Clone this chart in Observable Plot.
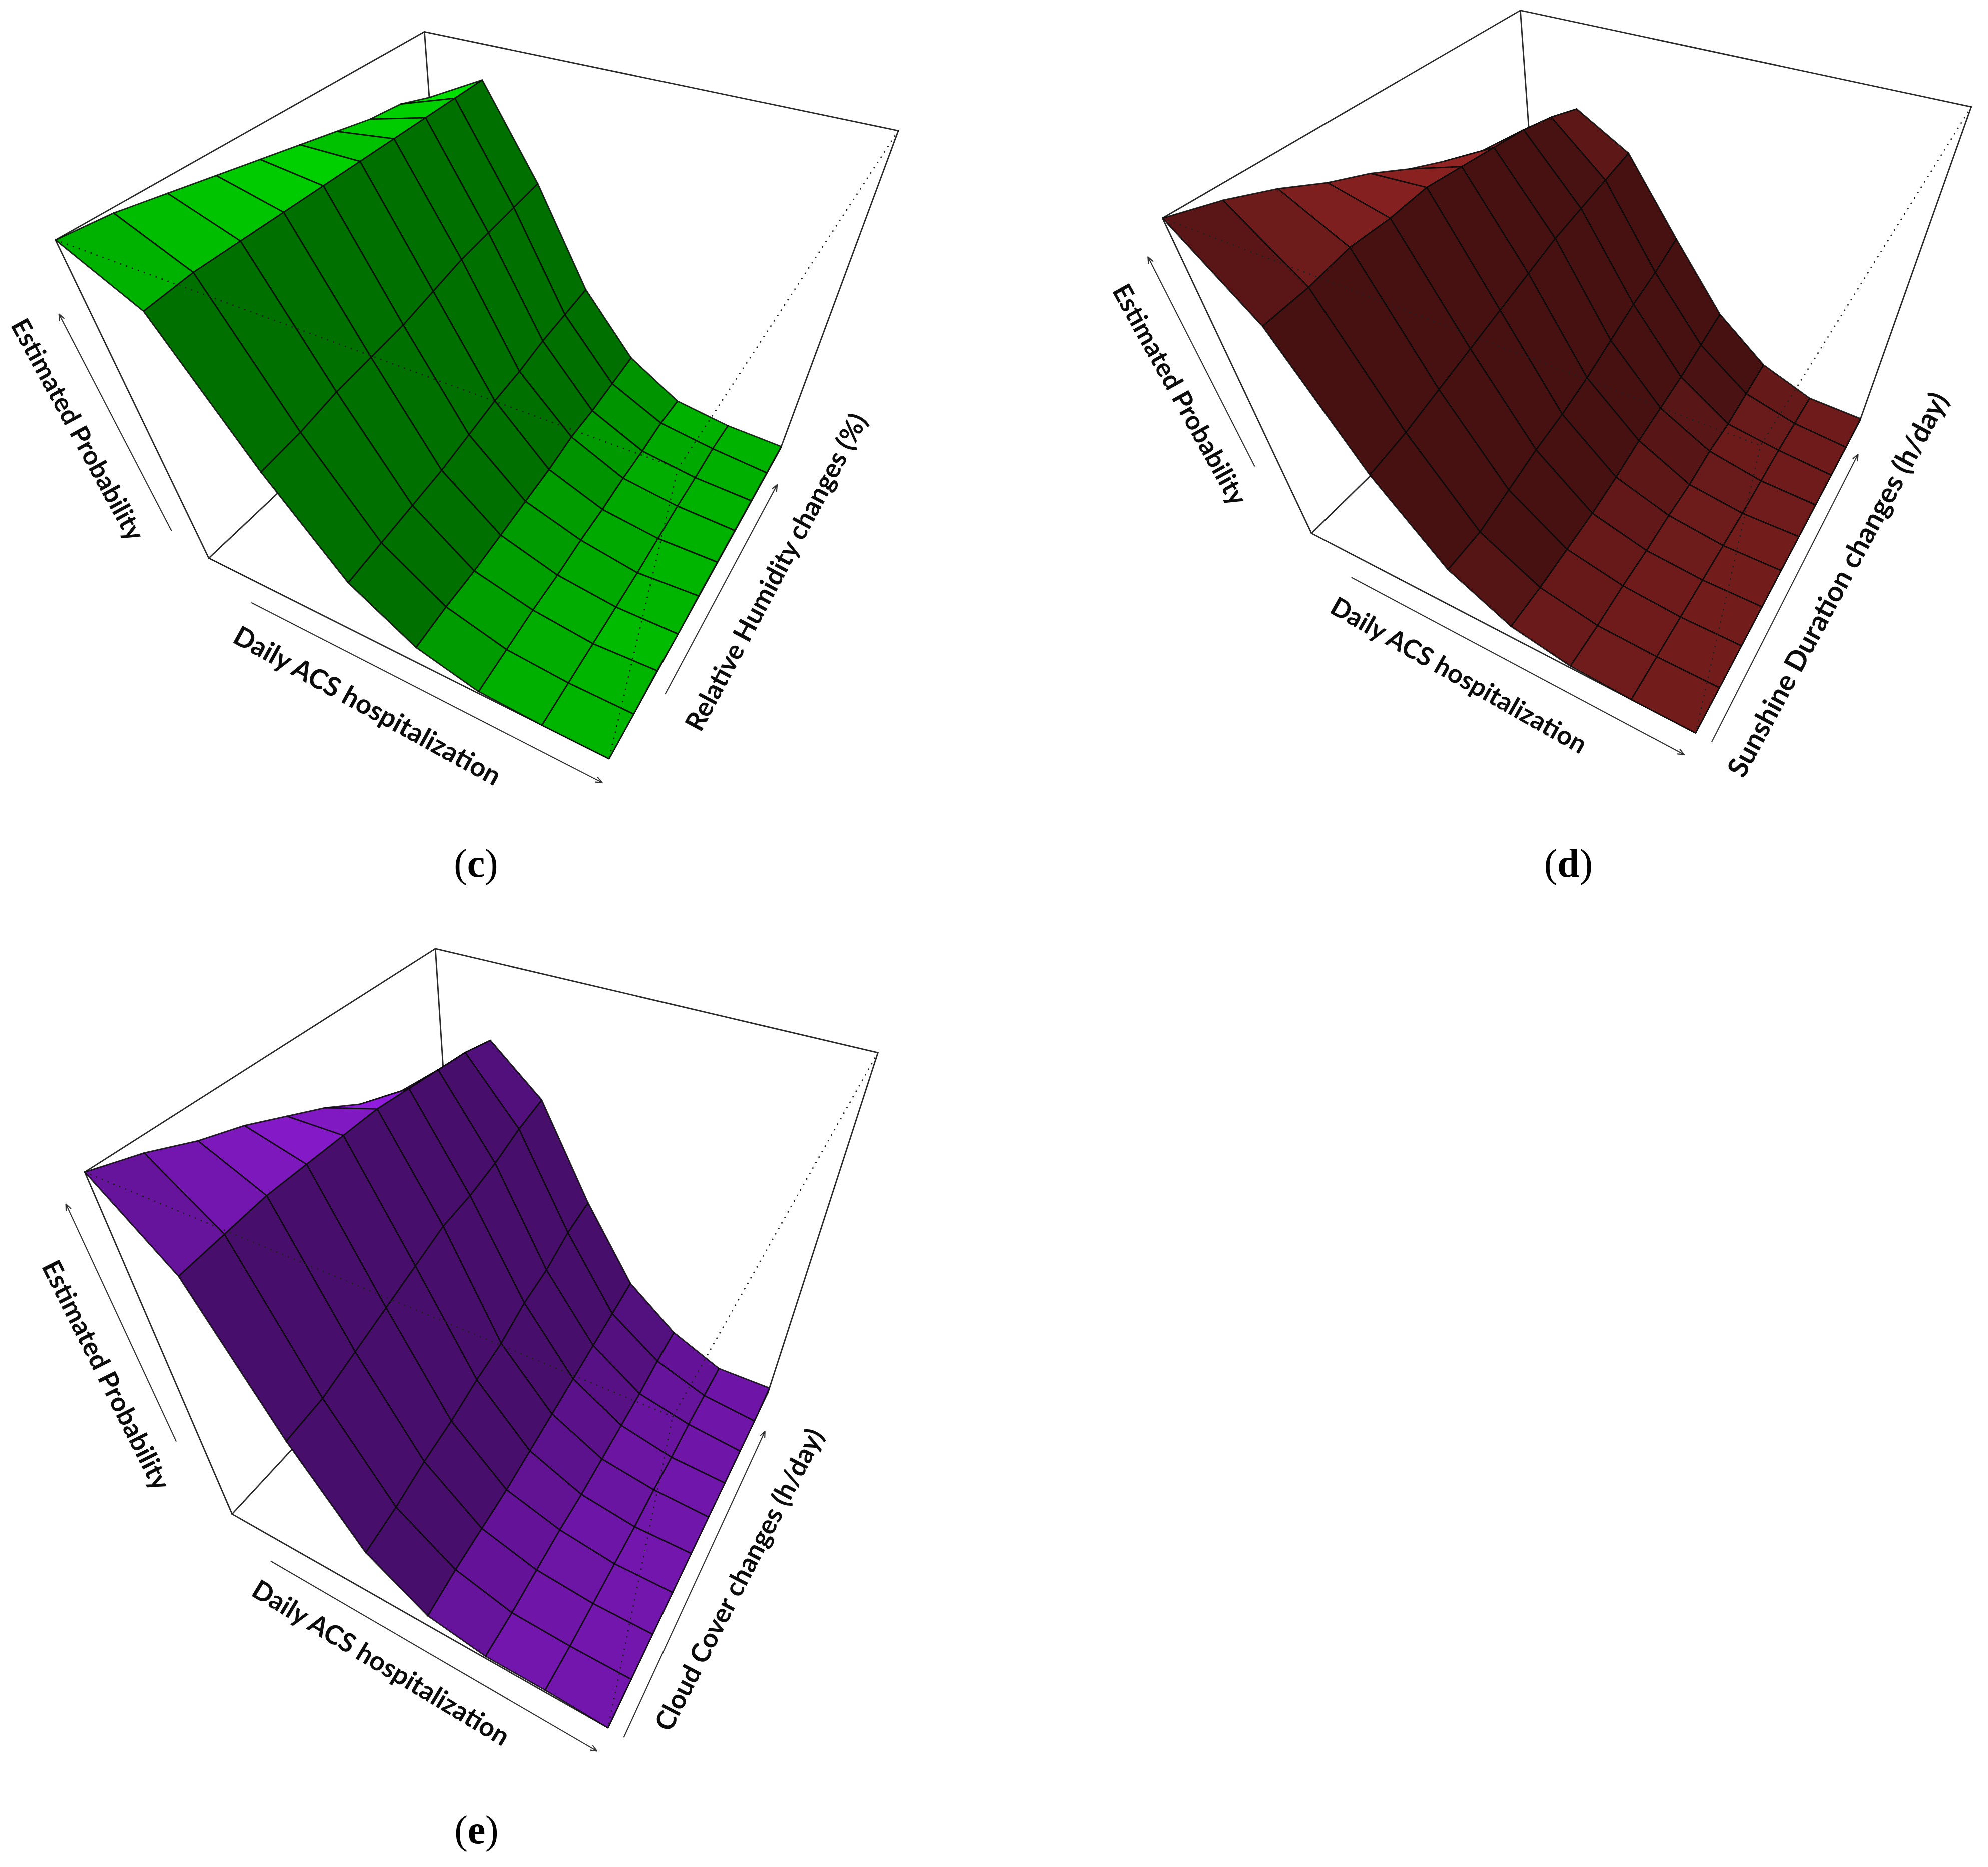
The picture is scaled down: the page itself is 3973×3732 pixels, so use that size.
<!doctype html>
<html><head><meta charset="utf-8">
<script src="https://cdn.jsdelivr.net/npm/d3@7"></script>
<script src="https://cdn.jsdelivr.net/npm/@observablehq/plot@0.6"></script>
<style>body{margin:0;background:#fff}svg{display:block}</style></head>
<body><div id="chart"></div>
<script>
// Estimated probability (0–100) on an 8×10 grid: rows = Daily ACS hospitalization, columns = weather change
const zHumidity = [
  [100,99,97,95,93,91,89,87,86,83],
  [90,91,91,91,91,91,91,91,91,91],
  [54,55,57,58,59,61,63,64,65,66],
  [24,25,26,27,29,31,32,34,35,36],
  [8,9,9,10,11,12,14,14,15,16],
  [1,2,3,3,4,4,5,5,6,5],
  [0,0,0,0,0,1,2,2,3,2],
  [0,0,1,0,1,1,1,1,1,1]];
const zSunshine = [
  [100,97,93,88,84,79,75,71,67,63],
  [81,82,84,84,85,84,83,82,80,77],
  [45,47,50,53,56,59,62,64,66,68],
  [19,19,22,25,27,30,34,38,41,45],
  [6,6,7,8,10,13,15,17,20,23],
  [1,1,2,2,3,3,5,5,7,9],
  [0,0,0,0,0,0,1,2,2,2],
  [0,0,0,0,0,0,0,0,0,1]];
const zCloud = [
  [100,97,93,90,86,82,77,73,69,65],
  [84,85,86,86,86,86,85,84,83,81],
  [48,49,52,55,58,61,62,64,67,69],
  [19,21,24,26,29,31,35,37,41,43],
  [5,7,8,9,11,13,15,17,19,21],
  [1,1,2,3,3,4,5,6,8,9],
  [1,0,0,0,0,1,1,2,2,2],
  [0,0,0,0,0,0,0,0,0,2]];

// Perspective cameras (the persp() view of each panel)
const camHumidity = [[593.051,731.624,-343.665,416.622],[143.250,-257.379,-798.327,1115.34],[-0.170133,0.287024,-0.338082,1]];
const camSunshine = [[185.860,1370.63,-1084.96,2620.56],[147.882,-268.555,-777.855,1065.63],[-0.171717,0.295615,-0.338937,1]];
const camCloud    = [[545.311,718.261,-352.195,463.205],[-158.619,265.896,-1484.74,3026.11],[-0.169712,0.295400,-0.341892,1]];

const panels = [
  {z:zHumidity, cam:camHumidity, color:"#00b500", letter:"c", letterX:951, letterY:1727, letterW:35,
   zArrow:[.19,.87], yArrow:[.185,.87], xArrow:[.17,1.01],
   labels:[["Estimated Probability",153,859,61.4,52],["Daily ACS hospitalization",733,1412,28.8,54],["Relative Humidity changes (%)",1552,1144,-61.9,53]]},
  {z:zSunshine, cam:camSunshine, color:"#731c1c", letter:"d", letterX:3134, letterY:1727, letterW:44,
   zArrow:[.35,.95], yArrow:[0,.88], xArrow:[.168,1.0],
   labels:[["Estimated Probability",2356,789,61,52],["Daily ACS hospitalization",2914,1351,29.5,52],["Sunshine Duration changes (h/day)",3674,1169,-61.6,56]]},
  {z:zCloud, cam:camCloud, color:"#7216ad", letter:"e", letterX:952, letterY:3659, letterW:35,
   zArrow:[.35,.97], yArrow:[0,.87], xArrow:[.166,1.0],
   labels:[["Estimated Probability",210,2749,63.4,53],["Daily ACS hospitalization",760,3325,31,53],["Cloud Cover changes (h/day)",1478,3158,-62.7,53]]}
];

const W = 3973, H = 3732;
const project = (c,[x,y,z]) => {
  const w = c[2][0]*x + c[2][1]*y + c[2][2]*z + c[2][3];
  return [(c[0][0]*x + c[0][1]*y + c[0][2]*z + c[0][3])/w, (c[1][0]*x + c[1][1]*y + c[1][2]*z + c[1][3])/w];
};
const pts = (c,id,list,extra={}) => list.map(m => { const [px,py] = project(c,m); return {px,py,id,...extra}; });

// facet brightness from its downhill slope
const tone = d3.scaleLinear().domain([-.6,0,.2,.5,.85,1.15,9]).range([1.24,1,.96,.88,.78,.62,.62]);
const shade = (base,zg,i,j,nI,nJ) => {
  const zx = -(zg[i+1][j]+zg[i+1][j+1]-zg[i][j]-zg[i][j+1])/200*nI;
  const zy = (zg[i][j+1]+zg[i+1][j+1]-zg[i][j]-zg[i+1][j])/200*nJ;
  const f = tone(zx+zy) + (i===0 && zx>0 ? .14 : 0);
  const b = d3.rgb(base);
  return d3.rgb(Math.min(255,b.r*f),Math.min(255,b.g*f),Math.min(255,b.b*f)).formatHex();
};

const quads=[], solidBox=[], dottedBox=[], arrows=[];
panels.forEach((p,pi)=>{
  const nI=p.z.length-1, nJ=p.z[0].length-1;
  // back-to-front: far corner is low x, high y
  for(let i=0;i<nI;i++) for(let j=nJ-1;j>=0;j--){
    const fill=shade(p.color,p.z,i,j,nI,nJ);
    const corner=[[i,j],[i+1,j],[i+1,j+1],[i,j+1]].map(([a,b])=>[a/nI,b/nJ,p.z[a][b]/100]);
    quads.push(...pts(p.cam,`${pi}-${i}-${j}`,corner,{fill}));
  }
  const solid=[[[0,0,1],[0,1,1],[1,1,1],[1,1,0],[1,0,0],[0,0,0],[0,0,1]],[[0,1,1],[0,1,0]],[[0,0,0],[0,1,0],[1,1,0]]];
  solid.forEach((s,k)=>solidBox.push(...pts(p.cam,`${pi}-${k}`,s)));
  const dotted=[[[0,0,1],[1,0,1]],[[1,1,1],[1,0,1],[1,0,0]]];
  dotted.forEach((s,k)=>dottedBox.push(...pts(p.cam,`${pi}-${k}`,s)));
  const arrow=(a,b)=>{const [x1,y1]=project(p.cam,a),[x2,y2]=project(p.cam,b);arrows.push({x1,y1,x2,y2});};
  arrow([p.xArrow[0],-.05,0],[p.xArrow[1],-.05,0]);
  arrow([1.035,p.yArrow[0],0],[1.035,p.yArrow[1],0]);
  arrow([0,-.05,p.zArrow[0]],[0,-.05,p.zArrow[1]]);
});

const labelMarks = panels.flatMap(p=>p.labels.map(([t,x,y,r,s])=>Plot.text([t],{x:()=>x,y:()=>y,text:d=>d,rotate:r,fontSize:s,fontFamily:"Lato",fontWeight:700,fill:"#0c0c0c",textAnchor:"middle",lineAnchor:"middle"})));
const captionMarks = panels.flatMap(p=>{
  const common={y:()=>p.letterY,text:d=>d,fontSize:80,fontFamily:"Liberation Serif",fill:"#000",lineAnchor:"middle"};
  const half=p.letterW/2;
  return [
    Plot.text(["("],{...common,x:()=>p.letterX-half,textAnchor:"end"}),
    Plot.text([p.letter],{...common,x:()=>p.letterX,textAnchor:"middle",fontWeight:700}),
    Plot.text([")"],{...common,x:()=>p.letterX+half,textAnchor:"start"})
  ];
});

const chart = Plot.plot({
  width:W,height:H,margin:0,style:{background:"#fff"},
  x:{domain:[0,W],range:[0,W],axis:null},
  y:{domain:[0,H],range:[0,H],axis:null},
  color:{type:"identity"},
  marks:[
    Plot.line(solidBox,{x:"px",y:"py",z:"id",stroke:"#2b2b2b",strokeWidth:2.8,strokeLinejoin:"miter"}),
    Plot.line(quads,{x:"px",y:"py",z:"id",fill:"fill",stroke:"#0a0a0a",strokeWidth:2.8,strokeOpacity:.85,curve:"linear-closed"}),
    Plot.line(dottedBox,{x:"px",y:"py",z:"id",stroke:"#222",strokeWidth:3,strokeDasharray:"0.1 12.5",strokeLinecap:"round"}),
    Plot.arrow(arrows,{x1:"x1",y1:"y1",x2:"x2",y2:"y2",bend:0,stroke:"#333",strokeWidth:2.2,headLength:9,headAngle:45}),
    ...labelMarks,...captionMarks
  ]
});
document.getElementById("chart").append(chart);
</script></body></html>
